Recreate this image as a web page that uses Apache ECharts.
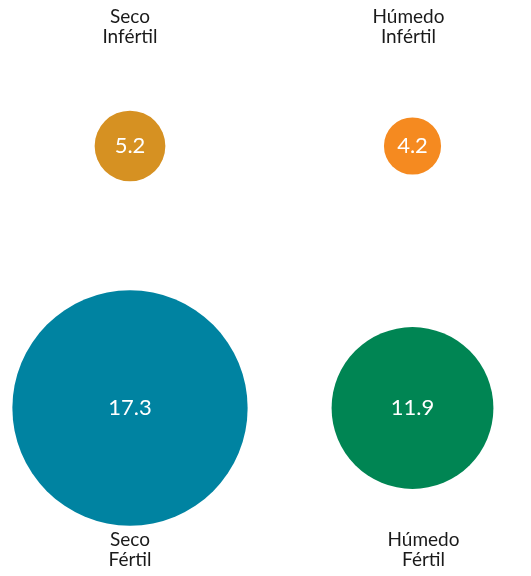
<!DOCTYPE html>
<html>
<head>
<meta charset="utf-8">
<script src="https://cdn.jsdelivr.net/npm/echarts@6/dist/echarts.min.js"></script>
<style>html,body{margin:0;padding:0;background:#fff}#c{width:531px;height:576px}</style>
</head>
<body>
<div id="c"></div>
<script>
var names = ['Seco\nInfértil', 'Húmedo\nInfértil', 'Seco\nFértil', 'Húmedo\nFértil'];
var humidity = [0, 1, 0, 1];   // 0 = Seco, 1 = Húmedo
var fertility = [1, 1, 0, 0];  // 1 = Infértil (top), 0 = Fértil (bottom)
var values = [5.2, 4.2, 17.3, 11.9];
var colors = ['#d69122', '#f58a20', '#0083a1', '#008553'];
var nameOffsets = [[0, -119], [-4, -119], [0, 142], [11, 142]];

var chart = echarts.init(document.getElementById('c'), null, {renderer: 'canvas'});
var font = 'Lato, "Noto Sans", sans-serif';

var bubbleData = values.map(function (v, i) {
  return {
    value: [humidity[i], fertility[i], v],
    symbolSize: v * 13.6,
    itemStyle: {color: colors[i], opacity: 1}
  };
});
var nameData = values.map(function (v, i) {
  return {
    value: [humidity[i], fertility[i], v],
    name: names[i],
    label: {offset: nameOffsets[i]}
  };
});

chart.setOption({
  animation: false,
  grid: {left: 130, right: 118.5, top: 146, bottom: 168},
  xAxis: {type: 'value', min: 0, max: 1, show: false},
  yAxis: {type: 'value', min: 0, max: 1, show: false},
  series: [
    {
      type: 'scatter',
      data: bubbleData,
      itemStyle: {opacity: 1},
      label: {
        show: true,
        position: 'inside',
        color: '#fff',
        fontFamily: font,
        fontSize: 22,
        formatter: function (p) { return p.value[2].toFixed(1); }
      },
      emphasis: {disabled: true}
    },
    {
      type: 'scatter',
      data: nameData,
      symbolSize: 0,
      itemStyle: {color: 'transparent', opacity: 1},
      label: {
        show: true,
        position: 'inside',
        color: '#1a1a1a',
        fontFamily: font,
        fontSize: 19,
        lineHeight: 20,
        align: 'center',
        formatter: function (p) { return p.name; }
      },
      emphasis: {disabled: true}
    }
  ]
});
</script>
</body>
</html>
